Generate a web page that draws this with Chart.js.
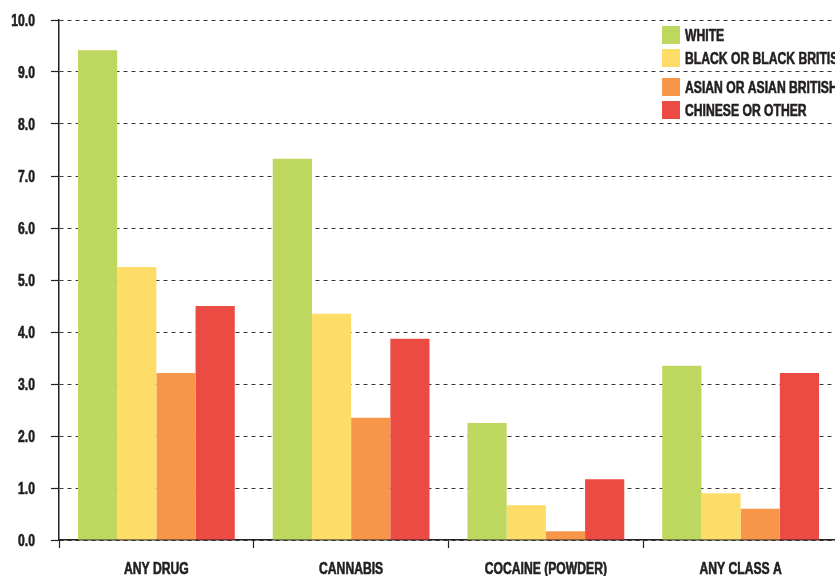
<!DOCTYPE html>
<html>
<head>
<meta charset="utf-8">
<script src="https://cdn.jsdelivr.net/npm/chart.js@4.4.1/dist/chart.umd.min.js"></script>
<style>
  html, body { margin: 0; padding: 0; background: #ffffff; overflow: hidden; }
  #wrap { width: 835px; height: 576px; position: relative; overflow: hidden; }
</style>
</head>
<body>
<div id="wrap"><canvas id="c" width="838" height="576"></canvas></div>
<script>
const categories = ['ANY DRUG', 'CANNABIS', 'COCAINE (POWDER)', 'ANY CLASS A'];
const seriesNames = ['WHITE', 'BLACK OR BLACK BRITISH', 'ASIAN OR ASIAN BRITISH', 'CHINESE OR OTHER'];
const white   = [9.42, 7.33, 2.25, 3.35];
const black   = [5.25, 4.35, 0.67, 0.90];
const asian   = [3.21, 2.35, 0.17, 0.60];
const chinese = [4.50, 3.87, 1.17, 3.21];
const yTicks  = [0, 1, 2, 3, 4, 5, 6, 7, 8, 9, 10];

const colors = ['#bdd75f', '#fddc68', '#f79548', '#ec4b43'];
const FONT = "'Liberation Sans', Arial, sans-serif";
const TEXT = '#231f20';
const SQUEEZE = 0.76;

// Draw condensed bold text (horizontal squeeze) at (x, y) with given alignment
function condensedText(ctx, str, x, y, align) {
  ctx.save();
  ctx.font = 'bold 16px ' + FONT;
  ctx.textBaseline = 'alphabetic';
  ctx.textAlign = align;
  ctx.translate(x, y);
  ctx.scale(SQUEEZE, 1);
  ctx.fillStyle = TEXT;
  ctx.strokeStyle = TEXT;
  ctx.lineWidth = 0.6;
  ctx.fillText(str, 0, 0);
  ctx.strokeText(str, 0, 0);
  ctx.restore();
}

const textPlugin = {
  id: 'condensedLabels',
  afterDraw(chart) {
    const ctx = chart.ctx;
    const ys = chart.scales.y;
    const xs = chart.scales.x;
    ys.ticks.forEach(t => {
      const py = ys.getPixelForValue(t.value);
      condensedText(ctx, Number(t.value).toFixed(1), 35, py + 6, 'right');
    });
    chart.data.labels.forEach((lab, i) => {
      const px = xs.getPixelForValue(i);
      condensedText(ctx, lab, px, 574, 'center');
    });
    const baselines = [41, 64, 93, 116];
    chart.data.datasets.forEach((ds, i) => {
      const b = baselines[i];
      ctx.fillStyle = ds.backgroundColor;
      ctx.fillRect(662, b - 15, 18, 18);
      condensedText(ctx, ds.label, 685, b, 'left');
    });
  }
};

const datasetsValues = [white, black, asian, chinese];

new Chart(document.getElementById('c'), {
  type: 'bar',
  data: {
    labels: categories,
    datasets: datasetsValues.map((vals, i) => ({
      label: seriesNames[i],
      data: vals,
      backgroundColor: colors[i],
      borderWidth: 0,
      categoryPercentage: 0.805,
      barPercentage: 1.0
    }))
  },
  options: {
    responsive: false,
    animation: false,
    devicePixelRatio: 1,
    layout: { padding: { top: 20, left: 0, right: 0, bottom: 0 } },
    plugins: {
      legend: { display: false },
      tooltip: { enabled: false },
      title: { display: false }
    },
    scales: {
      x: {
        grid: {
          display: true,
          drawOnChartArea: false,
          drawTicks: true,
          tickLength: 8,
          tickColor: '#231f20',
          tickWidth: 1.2,
          offset: true
        },
        border: { display: true, color: '#231f20', width: 1.5 },
        ticks: { display: false },
        afterFit(scale) { scale.height = 36; }
      },
      y: {
        min: 0,
        max: 10,
        afterBuildTicks(scale) { scale.ticks = yTicks.map(v => ({ value: v })); },
        grid: {
          color: '#3a3a3a',
          lineWidth: 1,
          drawTicks: true,
          tickLength: 8,
          tickColor: '#231f20',
          tickWidth: 1.2,
          tickBorderDash: []
        },
        border: { display: true, color: '#231f20', width: 1.5, dash: [4, 4] },
        ticks: { display: false },
        afterFit(scale) { scale.width = 59; }
      }
    }
  },
  plugins: [textPlugin]
});
</script>
</body>
</html>
